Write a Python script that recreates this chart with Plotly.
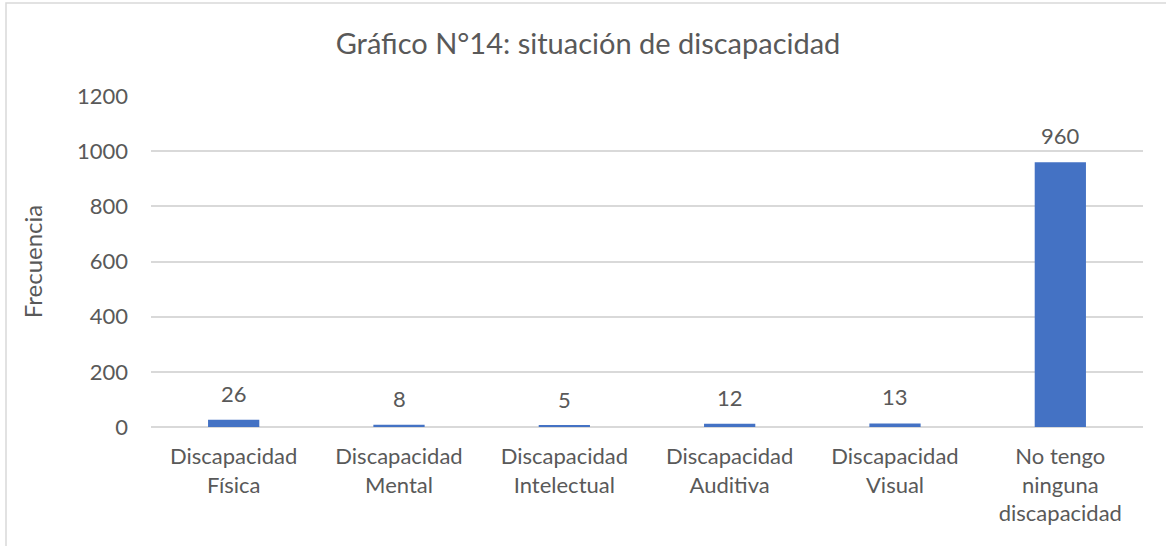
import plotly.graph_objects as go

categories = ["Discapacidad<br>Física", "Discapacidad<br>Mental", "Discapacidad<br>Intelectual",
              "Discapacidad<br>Auditiva", "Discapacidad<br>Visual", "No tengo<br>ninguna<br>discapacidad"]
values = [26, 8, 5, 12, 13, 960]
y_ticks = [0, 200, 400, 600, 800, 1000, 1200]

TEXT = "#595959"
FONT = "Lato"

fig = go.Figure()
fig.add_trace(go.Bar(x=categories, y=values, marker=dict(color="#4472C4", line=dict(width=0)),
                     hoverinfo="skip"))

for c, v in zip(categories, values):
    fig.add_annotation(x=c, y=v, text=str(v), showarrow=False, yanchor="bottom", yshift=11,
                       font=dict(family=FONT, size=22, color=TEXT))

W, H = 1166, 546
L, R, T, B = 151, 23, 96, 119
pw, ph = W - L - R, H - T - B

def px(x):
    return (x - L) / pw

def py(y):
    return (H - B - y) / ph

fig.add_shape(type="rect", xref="paper", yref="paper",
              x0=px(6), x1=px(1180), y0=py(560), y1=py(3),
              line=dict(color="#d9d9d9", width=1.5), fillcolor="rgba(0,0,0,0)", layer="below")

fig.update_layout(
    width=W, height=H,
    margin=dict(l=L, r=R, t=T, b=B, autoexpand=False),
    paper_bgcolor="white", plot_bgcolor="white",
    bargap=0.69,
    showlegend=False,
    title=dict(text="Gráfico N°14: situación de discapacidad", x=588 / W, xanchor="center",
               y=1 - 44 / H, yanchor="middle", yref="container",
               font=dict(family=FONT, size=29, color=TEXT)),
    font=dict(family=FONT, size=22, color=TEXT),
)
fig.update_xaxes(showgrid=False, showline=False, zeroline=False, ticks="",
                 tickfont=dict(family=FONT, size=22, color=TEXT), ticklabelstandoff=14)
fig.update_yaxes(range=[0, 1200], tickvals=y_ticks, showgrid=True, gridcolor="#d9d9d9", gridwidth=1.5,
                 zeroline=True, zerolinecolor="#d9d9d9", zerolinewidth=1.5, showline=False, ticks="",
                 tickfont=dict(family=FONT, size=22, color=TEXT), ticklabelstandoff=22,
                 title=dict(text="Frecuencia", font=dict(family=FONT, size=24, color=TEXT), standoff=27))

fig.write_html("out.html", config={"displayModeBar": False},
               post_script="document.body.style.margin='0px';")
